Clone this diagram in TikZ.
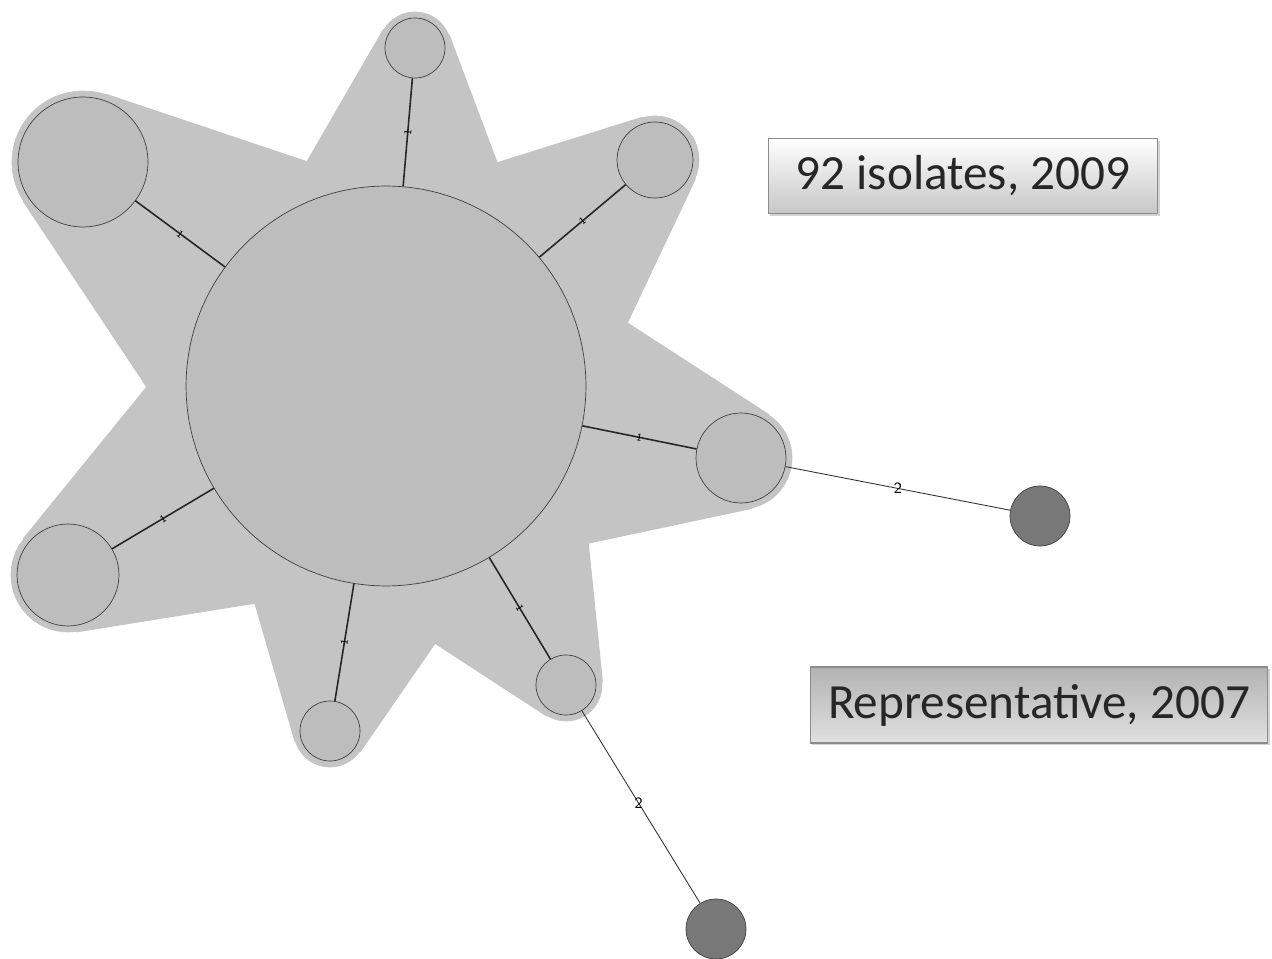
\documentclass[tikz,border=0pt]{standalone}
\usepackage{fontspec}
\newfontfamily\boxfont{Carlito}
\usetikzlibrary{calc,shadows}

\definecolor{starfill}{gray}{0.77}
\definecolor{hapfill}{gray}{0.74}
\definecolor{oldfill}{gray}{0.47}

\tikzset{
  hap/.style={circle,draw=black!75,fill=hapfill,inner sep=0pt,minimum size=#1*0.4mm},
  old/.style={circle,draw=black!75,fill=oldfill,inner sep=0pt,minimum size=#1*0.4mm},
  halo/.style={circle,draw=starfill,fill=starfill,inner sep=0pt,minimum size=(#1+6)*0.4mm},
  patch/.style={fill=starfill,draw=starfill,line width=0.8pt,line join=round},
  spoke/.style={draw=black!85,line width=0.9pt},
  link/.style={draw=black!80,line width=0.5pt},
  one/.style={font=\sffamily\fontsize{6}{6}\selectfont,inner sep=0.5pt,sloped},
  two/.style={font=\sffamily\fontsize{9}{9}\selectfont,inner sep=0.5pt},
  yearbox/.style={draw=black!45,line width=0.6pt,drop shadow={shadow xshift=1.2pt,shadow yshift=-1.2pt,opacity=0.35},
    font=\boxfont\fontsize{28}{28}\selectfont,text=black!85,inner sep=0pt}
}

\begin{document}
\begin{tikzpicture}[x=0.02cm,y=-0.02cm]
  \useasboundingbox (0,0) rectangle (1272,959);

  % notches of the star
  \coordinate (v1) at (307,162);
  \coordinate (v2) at (497,163);
  \coordinate (v3) at (627,323);
  \coordinate (v4) at (588,543);
  \coordinate (v5) at (435,643);
  \coordinate (v6) at (255,603);
  \coordinate (v7) at (147,387);

  % padded hull around each satellite
  \node [halo=30] (gT)  at (415,48) {};
  \node [halo=65] (gUL) at (83,162) {};
  \node [halo=38] (gUR) at (655,160) {};
  \node [halo=45] (gR)  at (741,458) {};
  \node [halo=30] (gBR) at (566,685) {};
  \node [halo=30] (gB)  at (330,731) {};
  \node [halo=51] (gLB) at (68,575) {};

  \path [patch] (v1) -- (v2) -- (v3) -- (v4) -- (v5) -- (v6) -- (v7) -- cycle;
  \foreach \h/\a/\b in {T/v1/v2, UR/v2/v3, R/v3/v4, BR/v4/v5, B/v5/v6, LB/v6/v7, UL/v7/v1} {
    \path [patch] (\a) -- (g\h.center) -- (\b) -- cycle;
    \path [patch] (\a) -- (tangent cs:node=g\h,point={(\a)},solution=1)
      -- (tangent cs:node=g\h,point={(\a)},solution=2) -- cycle;
    \path [patch] (\b) -- (tangent cs:node=g\h,point={(\b)},solution=1)
      -- (tangent cs:node=g\h,point={(\b)},solution=2) -- cycle;
  }

  % haplotypes
  \node [hap=200] (c)   at (386,386) {};
  \node [hap=30]  (hT)  at (415,48) {};
  \node [hap=65]  (hUL) at (83,162) {};
  \node [hap=38]  (hUR) at (655,160) {};
  \node [hap=45]  (hR)  at (741,458) {};
  \node [hap=30]  (hBR) at (566,685) {};
  \node [hap=30]  (hB)  at (330,731) {};
  \node [hap=51]  (hLB) at (68,575) {};

  \node [old=30] (dR) at (1040,516) {};
  \node [old=30] (dB) at (716,929) {};

  \foreach \h in {T,UL,UR,R,BR,B,LB}
    \draw [spoke] (c) -- node [one] {1} (h\h);

  \draw [link] (hR) -- node [two] {2} (dR);
  \draw [link] (hBR) -- node [two,pos=0.48] {2} (dB);

  % legend boxes
  \node [yearbox,top color=white,bottom color=black!22,minimum width=390*0.2mm,minimum height=75*0.2mm]
    (y09) at (963,176) {92 isolates, 2009};
  \node [yearbox,top color=black!30,bottom color=black!12,minimum width=458*0.2mm,minimum height=76*0.2mm]
    (y07) at (1039,705) {Representative, 2007};
\end{tikzpicture}
\end{document}
